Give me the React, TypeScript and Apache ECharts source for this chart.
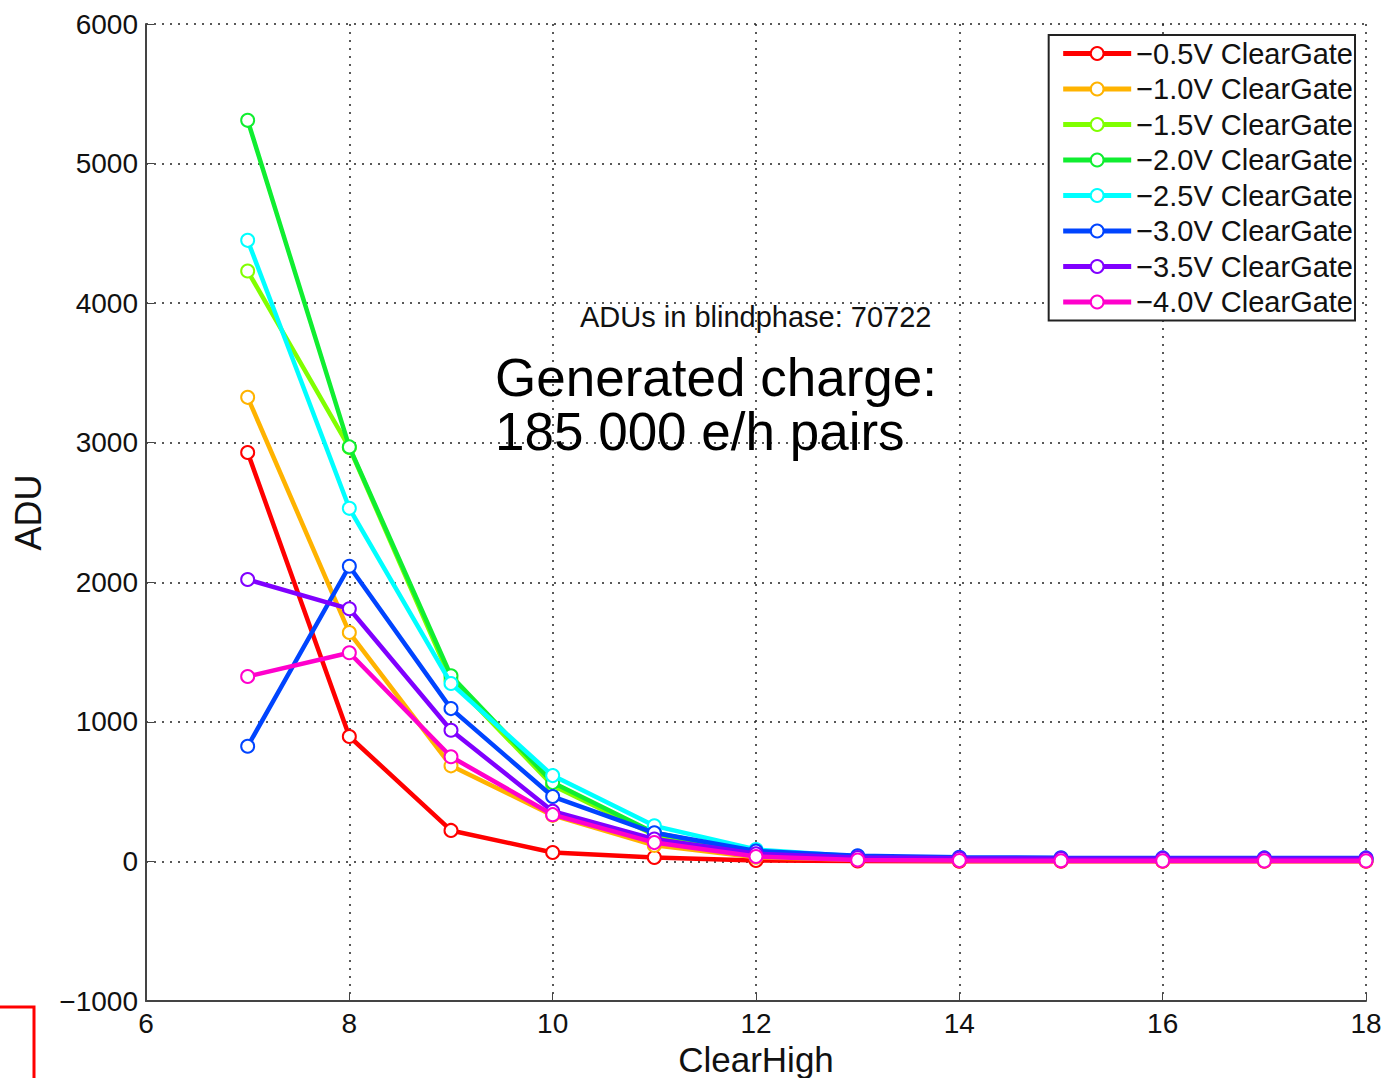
import React, { useEffect, useRef } from "react";
import * as echarts from "echarts";

const xValues = [7, 8, 9, 10, 11, 12, 13, 14, 15, 16, 17, 18];
const seriesNames = [
  "\u22120.5V ClearGate",
  "\u22121.0V ClearGate",
  "\u22121.5V ClearGate",
  "\u22122.0V ClearGate",
  "\u22122.5V ClearGate",
  "\u22123.0V ClearGate",
  "\u22123.5V ClearGate",
  "\u22124.0V ClearGate",
];
const red = [2930, 895, 222, 64, 29, 7, 3, 2, 2, 1, 1, 1];
const orange = [3325, 1640, 685, 330, 115, 30, 12, 8, 6, 5, 5, 5];
const yellowGreen = [4230, 2965, 1300, 545, 190, 60, 25, 15, 12, 10, 10, 10];
const green = [5310, 2970, 1330, 565, 205, 65, 28, 18, 14, 12, 12, 12];
const cyan = [4450, 2530, 1275, 615, 255, 85, 35, 22, 18, 16, 15, 15];
const blue = [825, 2115, 1095, 465, 205, 75, 40, 30, 26, 25, 25, 25];
const purple = [2020, 1810, 940, 360, 160, 55, 28, 22, 20, 20, 20, 20];
const pink = [1325, 1495, 750, 335, 135, 35, 10, 6, 5, 4, 4, 4];
const seriesValues = [red, orange, yellowGreen, green, cyan, blue, purple, pink];
const colors = ["#ff0000", "#ffb300", "#80ff00", "#10ee30", "#00ffff", "#0044ff", "#8000ff", "#ff00cc"];

const FONT = "Liberation Sans, Arial, sans-serif";
const fmt = (v: number) => String(v).replace("-", "\u2212");

export default function App() {
  const ref = useRef<HTMLDivElement>(null);
  useEffect(() => {
    const chart = echarts.init(ref.current!, undefined, { renderer: "svg" });
    const gridLine = { show: true, lineStyle: { color: "#222", width: 1.5, type: [2, 6] as any } };
    chart.setOption({
      animation: false,
      backgroundColor: "#fff",
      textStyle: { fontFamily: FONT },
      grid: { left: 146, right: 19, top: 24, bottom: 77, outerBoundsMode: "none", containLabel: false },
      xAxis: {
        type: "value",
        min: 6,
        max: 18,
        interval: 2,
        name: "ClearHigh",
        nameLocation: "middle",
        nameGap: 35,
        nameTextStyle: { fontSize: 35, lineHeight: 35, color: "#111", fontFamily: FONT },
        axisLine: { show: true, onZero: false, lineStyle: { color: "#444", width: 2 } },
        axisTick: { show: true, inside: true, length: 8, lineStyle: { color: "#444" } },
        axisLabel: { fontSize: 28, color: "#111", margin: 8, fontFamily: FONT, formatter: fmt },
        splitLine: gridLine,
      },
      yAxis: {
        type: "value",
        min: -1000,
        max: 6000,
        interval: 1000,
        name: "ADU",
        nameLocation: "middle",
        nameGap: 100,
        nameRotate: 90,
        nameTextStyle: { fontSize: 36, color: "#111", fontFamily: FONT },
        axisLine: { show: true, onZero: false, lineStyle: { color: "#444", width: 2 } },
        axisTick: { show: true, inside: true, length: 8, lineStyle: { color: "#444" } },
        axisLabel: { fontSize: 28, color: "#111", margin: 8, fontFamily: FONT, formatter: fmt },
        splitLine: gridLine,
      },
      legend: {
        orient: "vertical",
        right: 30,
        top: 35,
        backgroundColor: "#fff",
        borderColor: "#222",
        borderWidth: 2,
        borderRadius: 0,
        padding: [4, 2, 4, 12],
        itemWidth: 68,
        itemHeight: 16,
        itemGap: 6.5,
        lineStyle: { width: 5 },
        itemStyle: { borderWidth: 3.5 },
        textStyle: { fontSize: 29, color: "#111", fontFamily: FONT, padding: [0, 0, 0, 0] },
        data: seriesNames,
      },
      series: seriesNames.map((name, i) => ({
        name,
        type: "line",
        data: xValues.map((x, j) => [x, seriesValues[i][j]]),
        symbol: "emptyCircle",
        symbolSize: 13,
        lineStyle: { color: colors[i], width: 4.5 },
        itemStyle: { color: colors[i], borderColor: colors[i], borderWidth: 3.5 },
        z: 2 + i,
      })),
      graphic: [
        {
          type: "text",
          left: 580,
          top: 302,
          style: { text: "ADUs in blindphase: 70722", fontSize: 29, fill: "#111", fontFamily: FONT },
          z: 100,
        },
        {
          type: "text",
          left: 495,
          top: 351,
          style: { text: "Generated charge:", fontSize: 53, lineHeight: 52, fill: "#000", fontFamily: FONT },
          z: 100,
        },
        {
          type: "text",
          left: 495,
          top: 405,
          style: { text: "185 000 e/h pairs", fontSize: 53, lineHeight: 52, fill: "#000", fontFamily: FONT },
          z: 100,
        },
        {
          type: "polyline",
          shape: { points: [[0, 1007], [34, 1007], [34, 1078]] },
          style: { stroke: "#ff0000", lineWidth: 3, fill: "none" },
          z: 100,
        },
      ],
    });
    return () => chart.dispose();
  }, []);
  return (
    <div
      ref={ref}
      style={{ position: "absolute", left: 0, top: 0, width: 1385, height: 1078 }}
    />
  );
}
